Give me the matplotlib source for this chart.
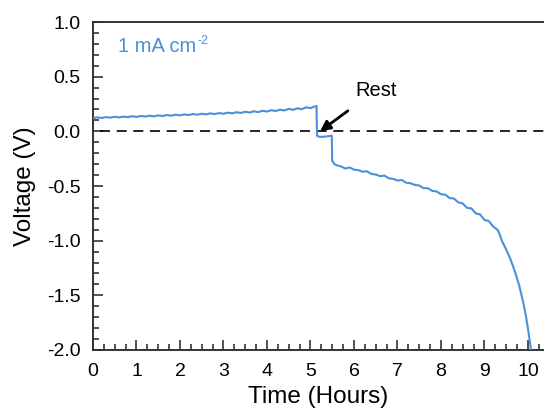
import numpy as np
import matplotlib.pyplot as plt
from matplotlib.ticker import MultipleLocator

plt.rcParams['font.family'] = ['Liberation Sans', 'DejaVu Sans']

# charge segment (0 - 5.15 h)
t_charge = [0.0, 0.1, 0.2, 0.3, 0.4, 0.5, 0.6, 0.7, 0.8, 0.9,
            1.0, 1.1, 1.2, 1.3, 1.4, 1.5, 1.6, 1.7, 1.8, 1.9,
            2.0, 2.1, 2.2, 2.3, 2.4, 2.5, 2.6, 2.7, 2.8, 2.9,
            3.0, 3.1, 3.2, 3.3, 3.4, 3.5, 3.6, 3.7, 3.8, 3.9,
            4.0, 4.1, 4.2, 4.3, 4.4, 4.5, 4.6, 4.7, 4.8, 4.9,
            5.0, 5.1, 5.14]
v_charge = [0.120, 0.128, 0.122, 0.130, 0.125, 0.133, 0.127, 0.135, 0.130, 0.138,
            0.132, 0.140, 0.135, 0.143, 0.137, 0.146, 0.140, 0.149, 0.143, 0.152,
            0.146, 0.155, 0.149, 0.158, 0.152, 0.161, 0.155, 0.164, 0.158, 0.167,
            0.161, 0.171, 0.165, 0.175, 0.168, 0.179, 0.172, 0.183, 0.176, 0.188,
            0.181, 0.193, 0.186, 0.198, 0.191, 0.205, 0.197, 0.211, 0.203, 0.220,
            0.212, 0.228, 0.232]

# rest segment
t_rest = [5.15, 5.2, 5.3, 5.4, 5.49]
v_rest = [-0.04, -0.05, -0.05, -0.045, -0.04]

# discharge segment (5.5 - 10.07 h)
t_dis = [5.5, 5.55, 5.6, 5.7, 5.8, 5.9, 6.0, 6.1, 6.2, 6.3, 6.4,
         6.5, 6.6, 6.7, 6.8, 6.9, 7.0, 7.1, 7.2, 7.3, 7.4,
         7.5, 7.6, 7.7, 7.8, 7.9, 8.0, 8.1, 8.2, 8.3, 8.4,
         8.5, 8.6, 8.7, 8.8, 8.9, 9.0, 9.1, 9.2, 9.3, 9.35, 9.4,
         9.5, 9.6, 9.7, 9.8, 9.9, 9.95, 10.0, 10.05, 10.08]
v_dis = [-0.27, -0.30, -0.31, -0.32, -0.34, -0.33, -0.35, -0.355, -0.37, -0.365, -0.39,
         -0.395, -0.41, -0.405, -0.43, -0.435, -0.45, -0.445, -0.47, -0.475, -0.49,
         -0.495, -0.52, -0.52, -0.545, -0.55, -0.575, -0.58, -0.61, -0.615, -0.65,
         -0.66, -0.70, -0.705, -0.75, -0.76, -0.81, -0.82, -0.87, -0.90, -0.94, -1.00,
         -1.08, -1.17, -1.28, -1.41, -1.58, -1.68, -1.80, -1.94, -2.02]

line_color = '#4a90d9'

fig = plt.figure(figsize=(5.44, 4.12), dpi=100)
ax = fig.add_axes([93 / 544, 62 / 412, 1 - 93 / 544, 328 / 412])

t = t_charge + t_rest + t_dis
v = v_charge + v_rest + v_dis
ax.plot(t, v, color=line_color, lw=1.5, zorder=3)
ax.axhline(0, color='black', lw=1.2, ls=(0, (6, 4)), xmin=0.015, zorder=2)

ax.set_xlim(0, 10.37)
ax.set_ylim(-2.0, 1.0)
ax.xaxis.set_major_locator(MultipleLocator(1))
ax.xaxis.set_minor_locator(MultipleLocator(0.25))
ax.yaxis.set_major_locator(MultipleLocator(0.5))
ax.yaxis.set_minor_locator(MultipleLocator(0.1))
ax.tick_params(which='both', direction='in', top=False, right=False,
               labelsize=14, width=1.2, color='#333333', pad=9)
ax.tick_params(which='major', length=7)
ax.tick_params(which='minor', length=4)
ax.set_yticklabels([f'{y:.1f}' for y in ax.get_yticks()])
for s in ['left', 'bottom', 'top']:
    ax.spines[s].set_linewidth(1.4)
    ax.spines[s].set_color('#333333')
ax.spines['right'].set_visible(False)

ax.set_xlabel('Time (Hours)', fontsize=17.5, labelpad=5)
ax.set_ylabel('Voltage (V)', fontsize=17.5, labelpad=8)

lab = ax.text(0.58, 0.73, '1 mA cm', color=line_color, fontsize=14.5,
              va='baseline')
ax.annotate('-2', xy=(1, 0), xycoords=lab, xytext=(1, 6),
            textcoords='offset points', color=line_color, fontsize=9,
            ha='left', va='bottom')

ax.annotate('Rest', xy=(5.22, 0.0), xytext=(6.5, 0.375), fontsize=14.5,
            ha='center', va='center',
            arrowprops=dict(arrowstyle='-|>', color='black', lw=2,
                            mutation_scale=15, shrinkA=10, shrinkB=0))

fig.savefig('out.png', dpi=100)
